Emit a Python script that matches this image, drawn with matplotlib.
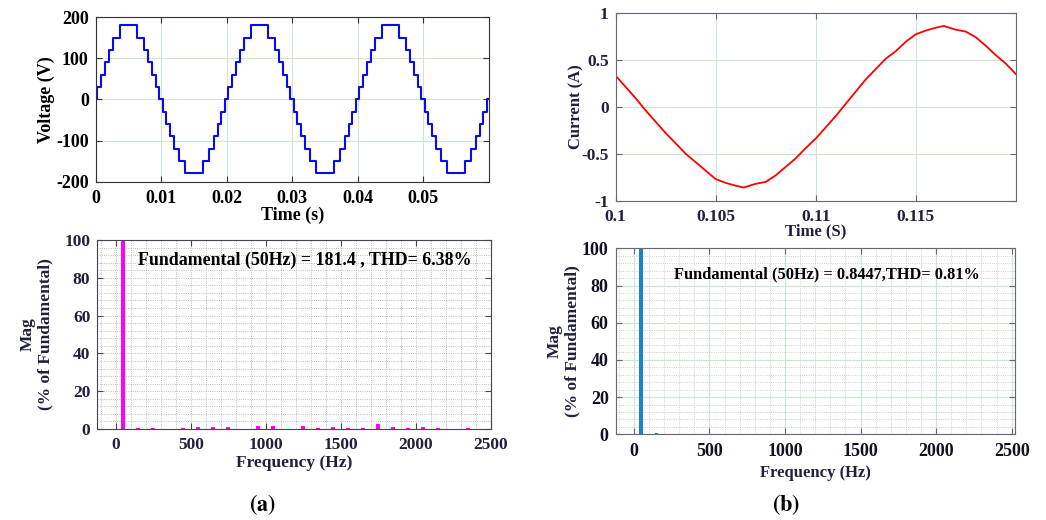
import numpy as np
import matplotlib.pyplot as plt
from matplotlib.ticker import MultipleLocator

plt.rcParams['font.family'] = ['Liberation Serif', 'DejaVu Serif']
plt.rcParams['font.weight'] = 'bold'
plt.rcParams['axes.labelweight'] = 'bold'
plt.rcParams['axes.unicode_minus'] = False
plt.rcParams['mathtext.fontset'] = 'stix'

# --- data ---
# one period of the staircase voltage (ms, V), repeated 3 times
V_T_MS = [0, 0.27, 0.80, 1.37, 1.98, 2.70, 3.69, 6.31, 7.30, 8.02, 8.63, 9.20, 9.73,
          10.27, 10.80, 11.37, 11.98, 12.70, 13.69, 16.31, 17.30, 18.02, 18.63, 19.20, 19.73]
V_LEVEL = [0, 30, 60, 90, 120, 150, 180, 150, 120, 90, 60, 30, 0,
           -30, -60, -90, -120, -150, -180, -150, -120, -90, -60, -30, 0]
N_PERIODS = 3

# load current
I_T = [0.1000, 0.1005, 0.1010, 0.1015, 0.1020, 0.1025, 0.1030, 0.1035, 0.1040, 0.1045,
       0.1050, 0.1055, 0.1060, 0.1064, 0.1070, 0.1075, 0.1080, 0.1085, 0.1090, 0.1095,
       0.1100, 0.1105, 0.1110, 0.1115, 0.1120, 0.1125, 0.1130, 0.1135, 0.1140, 0.1145,
       0.1150, 0.1155, 0.1160, 0.1164, 0.1170, 0.1175, 0.1180, 0.1185, 0.1190, 0.1195, 0.1200]
I_VAL = [0.33, 0.21, 0.09, -0.04, -0.16, -0.28, -0.39, -0.50, -0.59, -0.68,
         -0.77, -0.81, -0.84, -0.86, -0.82, -0.80, -0.73, -0.64, -0.55, -0.44,
         -0.34, -0.22, -0.10, 0.03, 0.16, 0.29, 0.40, 0.51, 0.59, 0.69,
         0.77, 0.81, 0.84, 0.86, 0.82, 0.80, 0.74, 0.65, 0.55, 0.46, 0.35]

# voltage spectrum (% of fundamental)
VH_F = [50, 150, 250, 450, 550, 650, 750, 950, 1050, 1250, 1350, 1450, 1550,
        1650, 1750, 1850, 1950, 2050, 2150, 2350]
VH_MAG = [100, 0.3, 0.3, 0.3, 0.9, 1.2, 0.9, 1.6, 1.6, 1.8, 0.5, 1.2, 0.7,
          0.7, 2.5, 1.2, 0.7, 1.2, 0.4, 0.4]

# current spectrum
IH_F = [50, 150]
IH_MAG = [100, 0.5]

V_TEXT = 'Fundamental (50Hz) = 181.4 , THD= 6.38%'
I_TEXT = 'Fundamental (50Hz) = 0.8447,THD= 0.81%'

GREEN = '#cde6cf'
NAVY = '#20203a'

fig = plt.figure(figsize=(10.46, 5.2), dpi=100)

ax1 = fig.add_axes([0.0915, 0.6506, 0.3757, 0.3162])
ax2 = fig.add_axes([0.0930, 0.175, 0.3761, 0.3635])
ax3 = fig.add_axes([0.5886, 0.6140, 0.3824, 0.3615])
ax4 = fig.add_axes([0.5886, 0.1648, 0.3815, 0.3577])


def style(ax, tcolor, scolor, size=12.5):
    ax.tick_params(direction='in', top=True, right=True, length=4, width=0.8,
                   labelsize=size, colors=scolor, labelcolor=tcolor)
    ax.tick_params(axis='y', pad=5)
    ax.tick_params(axis='x', pad=6)
    for s in ax.spines.values():
        s.set_color(scolor)
        s.set_linewidth(0.8)
    ax.set_axisbelow(True)


# (a) voltage waveform
t = []
v = []
for k in range(N_PERIODS):
    t += [x / 1000 + k * 0.02 for x in V_T_MS]
    v += V_LEVEL
t.append(0.06)
v.append(0)
ax1.step(t, v, where='post', color='#0a0af0', lw=1.5)
ax1.set_xlim(0, 0.06)
ax1.set_ylim(-200, 200)
ax1.set_xticks([0, 0.01, 0.02, 0.03, 0.04, 0.05])
ax1.set_xticklabels(['0', '0.01', '0.02', '0.03', '0.04', '0.05'])
ax1.set_yticks([-200, -100, 0, 100, 200])
ax1.set_yticklabels(['-200', '-100', '0', '100', '200'])
ax1.grid(True, color=GREEN, lw=0.8)
style(ax1, 'black', '#333333', 13)
ax1.set_xlabel('Time (s)', fontsize=13, labelpad=0)
ax1.set_ylabel('Voltage (V)', fontsize=13, labelpad=1)

# (a) voltage spectrum
ax2.bar(VH_F, VH_MAG, width=26, color='#ff00ff')
ax2.set_xlim(-123, 2500)
ax2.set_ylim(0, 100)
ax2.set_xticks([0, 500, 1000, 1500, 2000, 2500])
ax2.set_yticks([0, 20, 40, 60, 80, 100])
ax2.xaxis.set_minor_locator(MultipleLocator(100))
ax2.yaxis.set_minor_locator(MultipleLocator(4))
ax2.grid(True, which='both', color='#a8a8a8', lw=0.6, ls=':')
style(ax2, NAVY, '#444455')
ax2.tick_params(which='minor', length=0)
ax2.set_xlabel('Frequency (Hz)', fontsize=12.5, color=NAVY, labelpad=1)
ax2.set_ylabel('Mag\n(% of Fundamental)', fontsize=12.5, color=NAVY, labelpad=8,
               linespacing=1.15)
ax2.text(0.528, 0.89, V_TEXT, transform=ax2.transAxes, ha='center', va='center',
         fontsize=12.9, fontweight='bold')

# (b) current waveform
ax3.plot(I_T, I_VAL, color='#ff0000', lw=1.3)
ax3.set_xlim(0.1, 0.12)
ax3.set_ylim(-1, 1)
ax3.set_xticks([0.1, 0.105, 0.11, 0.115])
ax3.set_xticklabels(['0.1', '0.105', '0.11', '0.115'])
ax3.set_yticks([-1, -0.5, 0, 0.5, 1])
ax3.set_yticklabels(['-1', '-0.5', '0', '0.5', '1'])
ax3.grid(True, color=GREEN, lw=0.8)
style(ax3, NAVY, '#666677')
ax3.set_xlabel('Time (S)', fontsize=12, color=NAVY, labelpad=-1)
ax3.set_ylabel('Current (A)', fontsize=12, color=NAVY, labelpad=-2)

# (b) current spectrum
ax4.bar(IH_F, IH_MAG, width=26, color='#1883cc')
ax4.set_xlim(-120, 2520)
ax4.set_ylim(0, 100)
ax4.set_xticks([0, 500, 1000, 1500, 2000, 2500])
ax4.set_yticks([0, 20, 40, 60, 80, 100])
ax4.xaxis.set_minor_locator(MultipleLocator(100))
ax4.yaxis.set_minor_locator(MultipleLocator(4))
ax4.grid(True, which='minor', color='#c0c0c0', lw=0.6, ls=':')
ax4.grid(True, which='major', color=GREEN, lw=0.9)
style(ax4, '#111122', '#666677', 13)
ax4.tick_params(which='minor', length=0)
ax4.set_xlabel('Frequency (Hz)', fontsize=12, color=NAVY, labelpad=4)
ax4.set_ylabel('Mag\n(% of Fundamental)', fontsize=12.5, color=NAVY, labelpad=1,
               linespacing=1.15)
ax4.text(0.53, 0.86, I_TEXT, transform=ax4.transAxes, ha='center', va='center',
         fontsize=11.8, fontweight='bold')

fig.text(262 / 1046, 1 - 505 / 520, r'$(\mathbf{a})$', ha='center', va='center',
         fontsize=16)
fig.text(786 / 1046, 1 - 505 / 520, r'$(\mathbf{b})$', ha='center', va='center',
         fontsize=16)

fig.savefig('out.png', dpi=100)
